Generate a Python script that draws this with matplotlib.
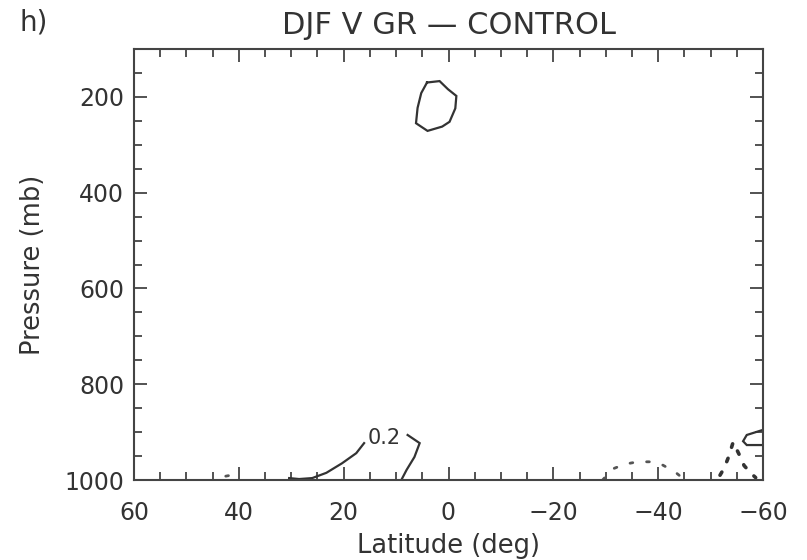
import matplotlib
matplotlib.use('Agg')
import matplotlib.pyplot as plt
from matplotlib.ticker import MultipleLocator

plt.rcParams['font.family'] = ['DejaVu Sans']

INK = '#333333'

# contour lines: (latitude deg, pressure mb)
upper_loop_lat = [4.1, 1.7, 0.1, -1.5, -1.3, -0.2, 1.2, 4.0, 6.2, 5.9, 5.2, 4.1]
upper_loop_p = [170, 167, 184, 198, 224, 252, 262, 271, 255, 223, 192, 170]

surf_left_lat = [30.4, 28.5, 26.0, 23.3, 20.3, 17.6, 16.1]
surf_left_p = [996, 998, 996, 985, 965, 944, 923]
surf_right_lat = [7.8, 5.5, 6.5, 8.0, 9.0]
surf_right_p = [906, 923, 952, 979, 1000]
label_lat, label_p, label_txt = 12.2, 912, '0.2'

blip_lat = [42.5, 41.5]
blip_p = [992, 990]

dome_lat = [-29.4, -31.3, -33.6, -36.1, -38.8, -40.9, -43.2, -45.1]
dome_p = [1000, 977, 967, 962, 962, 969, 983, 1000]

vee_lat = [-51.8, -52.6, -53.5, -54.3, -55.6, -56.4, -57.9, -58.6]
vee_p = [990, 975, 950, 921, 950, 970, 988, 995]

edge_loop_lat = [-59.8, -56.9, -56.2, -56.9, -59.8]
edge_loop_p = [896, 906, 919, 927, 927]

fig = plt.figure(figsize=(8.07, 5.6), dpi=100)
ax = fig.add_axes([134 / 807, 80 / 560, 629 / 807, 431 / 560])

solid = dict(color=INK, linewidth=1.6, solid_joinstyle='miter')
dotted = dict(color='#555555', linewidth=2.0, linestyle=(0, (1, 5)),
              dash_capstyle='round')

ax.plot(upper_loop_lat, upper_loop_p, **solid)
ax.plot(surf_left_lat, surf_left_p, **solid)
ax.plot(surf_right_lat, surf_right_p, **solid)
ax.plot(edge_loop_lat, edge_loop_p, **solid)
ax.plot(blip_lat, blip_p, **dotted)
ax.plot(dome_lat, dome_p, **dotted)
ax.plot(vee_lat, vee_p, color=INK, linewidth=2.6, linestyle=(0, (1, 3.2)),
        dash_capstyle='round')
ax.text(label_lat, label_p, label_txt, ha='center', va='center',
        fontsize=15, color=INK)

ax.set_xlim(60, -60)
ax.set_ylim(1000, 100)
ax.set_xticks([60, 40, 20, 0, -20, -40, -60])
ax.set_xticklabels(['60', '40', '20', '0', '\u221220', '\u221240', '\u221260'])
ax.set_yticks([200, 400, 600, 800, 1000])
ax.xaxis.set_minor_locator(MultipleLocator(5))
ax.yaxis.set_minor_locator(MultipleLocator(50))
ax.tick_params(which='both', direction='in', top=True, right=True,
               color='#444444', width=1.3, labelsize=17, labelcolor=INK)
ax.tick_params(which='major', length=9.4)
ax.tick_params(which='minor', length=5.5)
ax.tick_params(axis='x', which='major', pad=15)
ax.tick_params(axis='y', which='major', pad=7)
for s in ax.spines.values():
    s.set_color('#444444')
    s.set_linewidth(1.5)

ax.set_xlabel('Latitude (deg)', fontsize=18.5, color=INK, labelpad=6)
ax.set_ylabel('Pressure (mb)', fontsize=18.5, color=INK, labelpad=13)
ax.set_title('DJF V GR \u2014 CONTROL', fontsize=22, color=INK, pad=11)
fig.text(20 / 807, 1 - 22 / 560, 'h)', fontsize=20, color=INK,
         ha='left', va='center')

fig.savefig('out.png', dpi=100)
